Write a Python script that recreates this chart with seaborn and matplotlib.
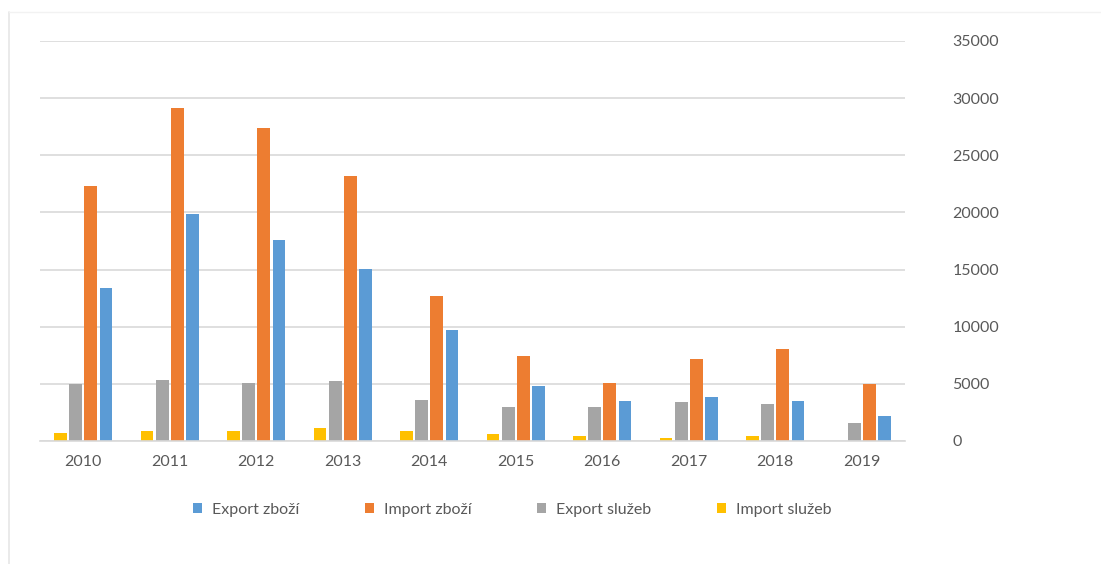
import pandas as pd
import matplotlib.pyplot as plt
import seaborn as sns
from matplotlib.lines import Line2D

# data
years = ['2010', '2011', '2012', '2013', '2014', '2015', '2016', '2017', '2018', '2019']
export_zbozi = [13370, 19880, 17600, 15060, 9720, 4820, 3530, 3820, 3530, 2160]
import_zbozi = [22270, 29130, 27430, 23230, 12670, 7470, 5080, 7210, 8030, 4960]
export_sluzeb = [4960, 5370, 5100, 5250, 3560, 2980, 2980, 3420, 3270, 1580]
import_sluzeb = [730, 875, 875, 1170, 875, 610, 470, 290, 470, 0]

series = ['Export zboží', 'Import zboží', 'Export služeb', 'Import služeb']
colors = ['#5B9BD5', '#ED7D31', '#A5A5A5', '#FFC000']

rows = []
for name, vals in zip(series, [export_zbozi, import_zbozi, export_sluzeb, import_sluzeb]):
    for y, v in zip(years, vals):
        rows.append({'rok': y, 'serie': name, 'hodnota': v})
df = pd.DataFrame(rows)

sns.set_style('white')
plt.rcParams['font.family'] = ['Lato', 'DejaVu Sans']

fig = plt.figure(figsize=(11.01, 5.64), dpi=100)
ax = fig.add_axes([40 / 1101, 1 - 441 / 564, 865 / 1101, 400 / 564])

# bars are drawn in reverse order of the legend (Excel style)
order_draw = series[::-1]
pal = dict(zip(series, colors))
sns.barplot(data=df, x='rok', y='hodnota', hue='serie', hue_order=order_draw,
            palette=pal, order=years, width=0.7, gap=0.15, linewidth=0,
            saturation=1, ax=ax)

ax.set_ylim(0, 35000)
ax.set_xlim(-0.5, 9.5)
ax.set_yticks(range(0, 35001, 5000))
ax.yaxis.tick_right()
ax.grid(axis='y', color='#D9D9D9', linewidth=1.2)
ax.set_axisbelow(True)
for s in ['top', 'left', 'right']:
    ax.spines[s].set_visible(False)
ax.spines['bottom'].set_color('#D9D9D9')
ax.spines['bottom'].set_linewidth(1.2)
ax.tick_params(axis='y', length=0, pad=34, labelsize=11.5, labelcolor='#595959')
ax.tick_params(axis='x', length=0, pad=10, labelsize=11.5, labelcolor='#595959')
ax.set_xlabel('')
ax.set_ylabel('')

# legend in Excel order
handles, labels = ax.get_legend_handles_labels()
hmap = dict(zip(labels, handles))
ax.legend([hmap[s] for s in series], series, loc='center', bbox_to_anchor=(512 / 1101, 1 - 510 / 564),
          bbox_transform=fig.transFigure, ncol=4, frameon=False, handlelength=0.6, handleheight=0.6,
          handletextpad=0.6, columnspacing=4.1, labelcolor='#595959', prop={'size': 11.5})

# faint frame of the original screenshot
fig.add_artist(Line2D([9 / 1101, 9 / 1101], [0, 1 - 12 / 564], color='#E6E6E6', linewidth=1.2))
fig.add_artist(Line2D([9 / 1101, 1], [1 - 12 / 564, 1 - 12 / 564], color='#F2F2F2', linewidth=1))

fig.savefig('out.png', dpi=100)
plt.close()
